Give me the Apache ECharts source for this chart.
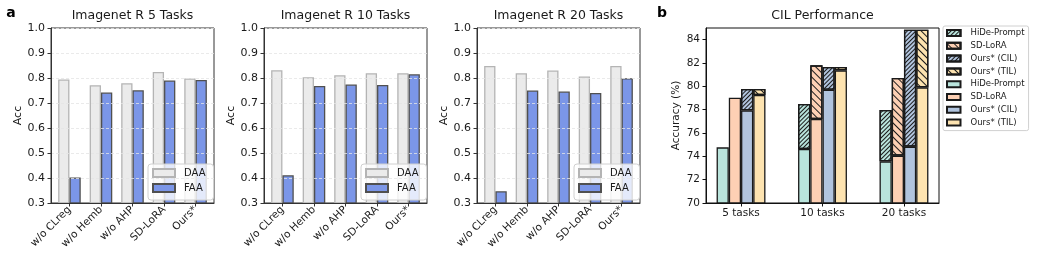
<!DOCTYPE html>
<html><head><meta charset="utf-8">
<script src="https://cdn.jsdelivr.net/npm/echarts@6/dist/echarts.min.js"></script>
<style>html,body{margin:0;padding:0;background:#fff}#c{width:1046px;height:261px}</style>
</head><body><div id="c"></div>
<script>
// ---------- Panel a data ----------
const catsA = ['w/o CLreg', 'w/o Hemb', 'w/o AHP', 'SD-LoRA', 'Ours*'];
const titlesA = ['Imagenet R 5 Tasks', 'Imagenet R 10 Tasks', 'Imagenet R 20 Tasks'];
const daa5  = [0.794, 0.771, 0.779, 0.824, 0.798];
const faa5  = [0.402, 0.742, 0.751, 0.790, 0.792];
const daa10 = [0.831, 0.803, 0.811, 0.819, 0.819];
const faa10 = [0.411, 0.768, 0.774, 0.772, 0.815];
const daa20 = [0.848, 0.819, 0.830, 0.806, 0.848];
const faa20 = [0.347, 0.750, 0.746, 0.740, 0.799];
const yTicksA = [0.3, 0.4, 0.5, 0.6, 0.7, 0.8, 0.9, 1.0];

// ---------- Panel b data ----------
const tasksB = ['5 tasks', '10 tasks', '20 tasks'];
const methodsB = ['HiDe-Prompt', 'SD-LoRA', 'Ours* (CIL)', 'Ours* (TIL)'];
const hideBase = [74.77, 74.63, 73.57];
const hideTop  = [null, 78.49, 77.97];
const sdBase   = [79.03, 77.20, 74.06];
const sdTop    = [null, 81.80, 80.71];
const cilBase  = [77.94, 79.71, 74.83];
const cilTop   = [79.77, 81.66, 84.86];
const tilBase  = [79.26, 81.37, 79.91];
const tilTop   = [79.77, 81.66, 84.86];
const yTicksB = [70, 72, 74, 76, 78, 80, 82, 84];
const titleB = 'CIL Performance';

// ---------- styling / layout ----------
const FONT = 'DejaVu Sans';
const TXT = '#1a1a1a';
const leftsA = [51, 264, 477];
const W_A = 163, TOP = 28, H = 175;
const B_LEFT = 706, W_B = 233;
const B_MIN = -0.43, B_MAX = 2.43;
const B_STEP = W_B / (B_MAX - B_MIN);
const colorsB = ['#b9e4dc', '#fdd0b4', '#b1c4de', '#fde3b0'];
const decalFwd = {symbol: 'rect', symbolSize: 1, dashArrayX: [1, 0], dashArrayY: [1, 1.8], rotation: -Math.PI / 4, color: '#1a1a1a'};
const decalBack = {symbol: 'rect', symbolSize: 1, dashArrayX: [1, 0], dashArrayY: [1, 3.8], rotation: Math.PI / 4, color: '#1a1a1a'};
const decalsB = [decalFwd, decalBack, decalFwd, decalBack];

const panelsA = [[daa5, faa5], [daa10, faa10], [daa20, faa20]];

const grid = [], xAxis = [], yAxis = [], series = [], legend = [], graphic = [];

panelsA.forEach((p, i) => {
  grid.push({left: leftsA[i], top: TOP, width: W_A, height: H, show: true, borderColor: '#333', borderWidth: 1, outerBoundsMode: 'none'});
  xAxis.push({
    type: 'value', gridIndex: i, min: -0.585, max: 4.585, z: 5,
    axisLine: {show: true, onZero: false, lineStyle: {color: '#333', width: 1}},
    axisTick: {show: true, length: 3.5, customValues: catsA.map((c, j) => j), lineStyle: {color: '#333'}},
    axisLabel: {customValues: catsA.map((c, j) => j), formatter: v => catsA[Math.round(v)], rotate: 45, fontSize: 10.5, fontFamily: FONT, color: TXT, margin: 5},
    splitLine: {show: false}
  });
  yAxis.push({
    type: 'value', gridIndex: i, min: 0.3, max: 1.0, z: 5,
    name: 'Acc', nameLocation: 'middle', nameGap: 27,
    nameTextStyle: {fontSize: 11, fontFamily: FONT, color: TXT},
    axisLine: {show: true, onZero: false, lineStyle: {color: '#333', width: 1}},
    axisTick: {show: true, length: 3.5, customValues: yTicksA, lineStyle: {color: '#333'}},
    axisLabel: {customValues: yTicksA, formatter: v => v.toFixed(1), fontSize: 11, fontFamily: FONT, color: TXT, margin: 6},
    splitLine: {show: true, lineStyle: {color: '#e4e4e4', width: 0.8, type: [3, 2]}}
  });
  series.push({
    type: 'bar', name: 'DAA', xAxisIndex: i, yAxisIndex: i,
    data: p[0].map((v, j) => [j, v]), barWidth: 11.3, barGap: '0%',
    itemStyle: {color: '#ebebeb', borderColor: '#b4b4b4', borderWidth: 1.3}
  });
  series.push({
    type: 'bar', name: 'FAA', xAxisIndex: i, yAxisIndex: i,
    data: p[1].map((v, j) => [j, v]), barWidth: 11.3, barGap: '0%',
    itemStyle: {color: '#7b96e8', borderColor: '#505050', borderWidth: 1.3}
  });
  legend.push({
    orient: 'vertical', left: leftsA[i] + 97, top: 164, data: ['DAA', 'FAA'],
    icon: 'rect', itemWidth: 22, itemHeight: 8, itemGap: 3, padding: [3, 8, 6, 4],
    backgroundColor: 'rgba(255,255,255,0.8)', borderColor: '#d0d0d0', borderWidth: 1, borderRadius: 3,
    selectedMode: false,
    textStyle: {fontSize: 10, fontFamily: FONT, color: TXT, lineHeight: 12, padding: [0, 0, 0, 4]}
  });
  graphic.push({type: 'text', style: {text: titlesA[i], x: leftsA[i] + W_A / 2, y: 16, fill: TXT, font: '12.5px "DejaVu Sans"', align: 'center', verticalAlign: 'middle', textAlign: 'center', textVerticalAlign: 'middle'}});
});

// Panel b: frame grid (index 3) with visible axes, data grid (index 4) with category bands
grid.push({left: B_LEFT, top: TOP, width: W_B, height: H, show: true, borderColor: '#111', borderWidth: 1, outerBoundsMode: 'none'});
grid.push({left: B_LEFT + (-0.5 - B_MIN) * B_STEP, top: TOP, width: tasksB.length * B_STEP, height: H, show: false, outerBoundsMode: 'none'});
xAxis.push({
  type: 'value', gridIndex: 3, min: B_MIN, max: B_MAX, z: 5,
  axisLine: {show: true, onZero: false, lineStyle: {color: '#111', width: 1}},
  axisTick: {show: true, length: 3.5, customValues: tasksB.map((t, j) => j), lineStyle: {color: '#111'}},
  axisLabel: {customValues: tasksB.map((t, j) => j), formatter: v => tasksB[Math.round(v)], fontSize: 10.5, fontFamily: FONT, color: TXT, margin: 5},
  splitLine: {show: false}
});
yAxis.push({
  type: 'value', gridIndex: 3, min: 70, max: 85, z: 5,
  name: 'Accuracy (%)', nameLocation: 'middle', nameGap: 24,
  nameTextStyle: {fontSize: 10.5, fontFamily: FONT, color: TXT},
  axisLine: {show: true, onZero: false, lineStyle: {color: '#111', width: 1}},
  axisTick: {show: true, length: 3.5, customValues: yTicksB, lineStyle: {color: '#111'}},
  axisLabel: {customValues: yTicksB, fontSize: 10.5, fontFamily: FONT, color: TXT, margin: 6},
  splitLine: {show: false}
});
xAxis.push({
  type: 'category', gridIndex: 4, data: tasksB, boundaryGap: true,
  axisLine: {show: false}, axisTick: {show: false}, axisLabel: {show: false}, splitLine: {show: false}
});
yAxis.push({
  type: 'value', gridIndex: 4, min: 70, max: 85,
  axisLine: {show: false}, axisTick: {show: false}, axisLabel: {show: false}, splitLine: {show: false}
});
const basesB = [hideBase, sdBase, cilBase, tilBase];
const topsB = [hideTop, sdTop, cilTop, tilTop];
const solidNames = methodsB.map(m => m + ' ');
const barWB = 0.15 * B_STEP;
methodsB.forEach((m, k) => {
  series.push({
    type: 'bar', name: solidNames[k], stack: 's' + k, xAxisIndex: 4, yAxisIndex: 4,
    data: basesB[k], barWidth: barWB, barGap: '0%',
    itemStyle: {color: colorsB[k], borderColor: '#1a1a1a', borderWidth: 1.3}
  });
});
methodsB.forEach((m, k) => {
  series.push({
    type: 'bar', name: m, stack: 's' + k, xAxisIndex: 4, yAxisIndex: 4,
    data: topsB[k].map((t, j) => t == null ? '-' : +(t - basesB[k][j]).toFixed(3)),
    barWidth: barWB, barGap: '0%',
    itemStyle: {color: colorsB[k], borderColor: '#1a1a1a', borderWidth: 1.3, decal: decalsB[k]}
  });
});
legend.push({
  orient: 'vertical', left: 943, top: 26, data: methodsB.concat(solidNames),
  formatter: n => n.trim(),
  icon: 'rect', itemWidth: 13.5, itemHeight: 6, itemGap: 2.8, padding: [2, 4, 3, 3],
  backgroundColor: 'rgba(255,255,255,0.8)', borderColor: '#d0d0d0', borderWidth: 1, borderRadius: 2,
  selectedMode: false,
  textStyle: {fontSize: 8.5, fontFamily: FONT, color: TXT, lineHeight: 10, padding: [0, 0, 0, 5]}
});
graphic.push({type: 'text', style: {text: titleB, x: B_LEFT + W_B / 2, y: 16, fill: TXT, font: '12.5px "DejaVu Sans"', align: 'center', verticalAlign: 'middle', textAlign: 'center', textVerticalAlign: 'middle'}});
graphic.push({type: 'text', style: {text: 'a', x: 11, y: 13, fill: '#000', font: 'bold 14px "DejaVu Sans"', align: 'center', verticalAlign: 'middle', textAlign: 'center', textVerticalAlign: 'middle'}});
graphic.push({type: 'text', style: {text: 'b', x: 662, y: 13, fill: '#000', font: 'bold 14px "DejaVu Sans"', align: 'center', verticalAlign: 'middle', textAlign: 'center', textVerticalAlign: 'middle'}});

const chart = echarts.init(document.getElementById('c'), null, {renderer: 'canvas'});
chart.setOption({
  animation: false,
  backgroundColor: '#fff',
  textStyle: {fontFamily: FONT},
  grid, xAxis, yAxis, series, legend, graphic
});
</script></body></html>
